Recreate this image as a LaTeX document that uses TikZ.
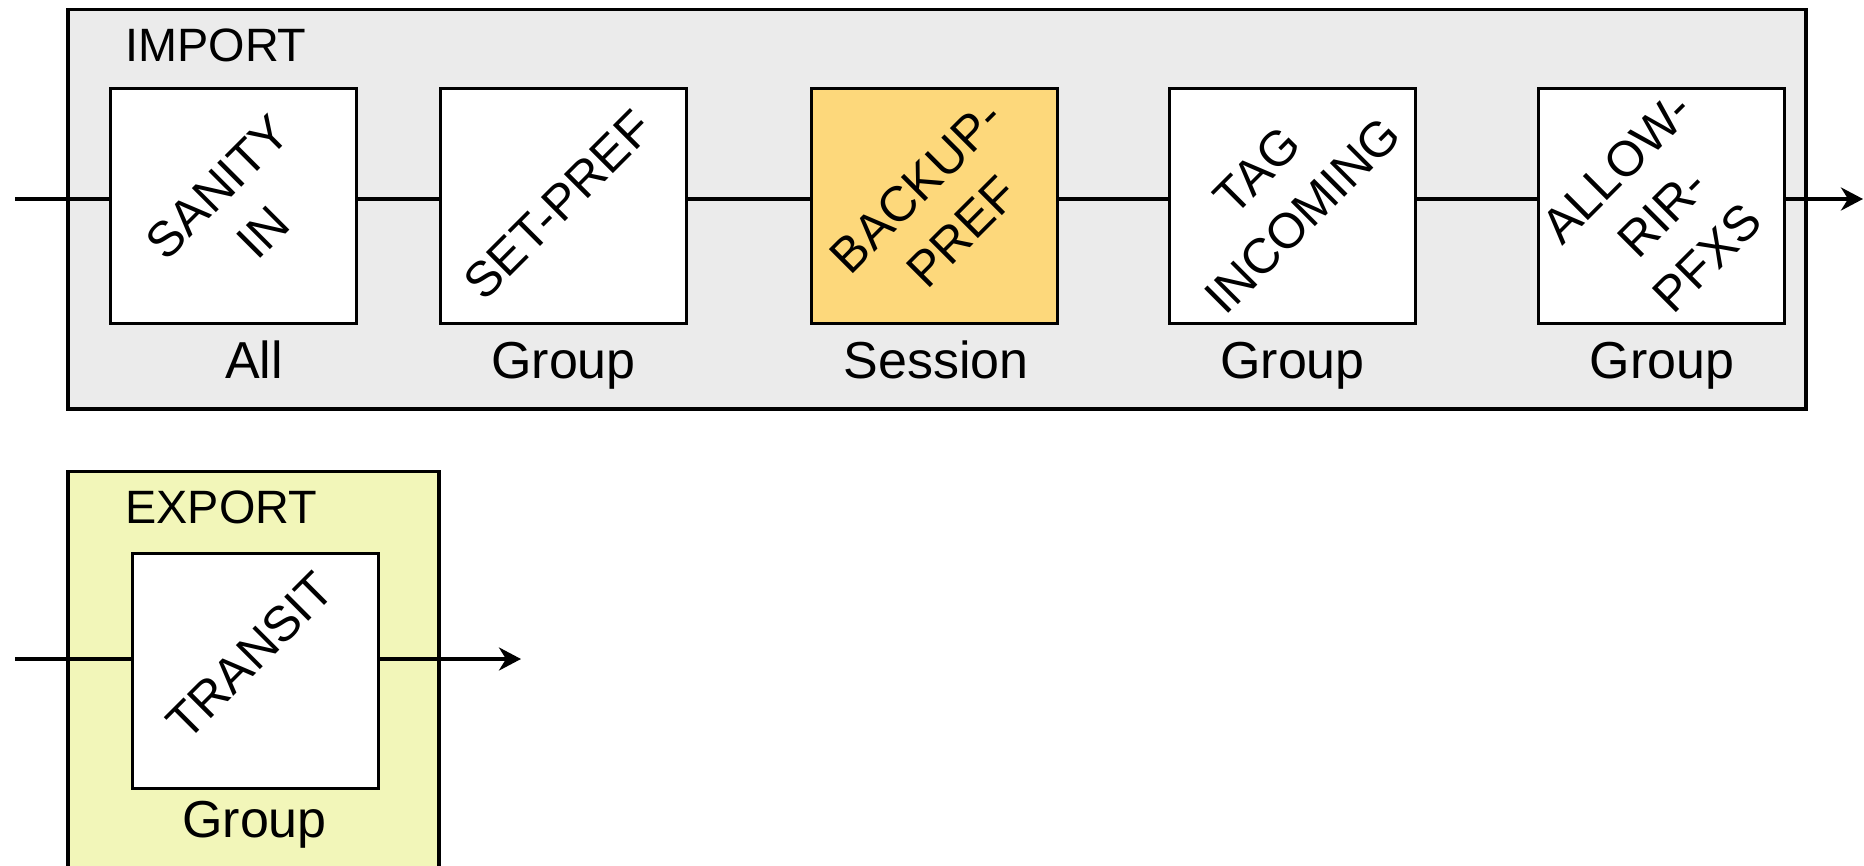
\documentclass[tikz,border=0pt]{standalone}
\usepackage{fontspec}
\setmainfont{Liberation Sans}
\usetikzlibrary{arrows.meta}
\definecolor{panelgray}{HTML}{EBEBEB}
\definecolor{panelyellow}{HTML}{F2F6B9}
\definecolor{highlight}{HTML}{FDD87B}
\begin{document}
\begin{tikzpicture}[x=0.5pt,y=-0.5pt,
  panel/.style={draw=black, line width=1.6pt},
  filterbox/.style={draw=black, line width=1.5pt, fill=white,
    minimum width=123pt, minimum height=117.5pt, inner sep=0pt},
  filtername/.style={rotate=45, align=center, inner sep=0pt,
    font=\fontsize{24.7}{32}\selectfont},
  scopelabel/.style={anchor=base, inner sep=0pt, font=\fontsize{26}{29}\selectfont},
  paneltitle/.style={anchor=base west, inner sep=0pt, font=\fontsize{23.4}{28}\selectfont},
  flow/.style={line width=2.2pt},
  flowout/.style={flow, -{Stealth[length=11pt,width=11.5pt,inset=3.5pt]}},
  ]
\useasboundingbox (0,0) rectangle (1864,866);
\clip (0,0) rectangle (1864,866);

% import chain
\draw[panel, fill=panelgray] (68,9.5) rectangle (1806,409);
\node[paneltitle] (importtitle) at (125,62) {IMPORT};

\node[filterbox] (b1) at (233,206.5) {};
\node[filterbox] (b2) at (563.5,206.5) {};
\node[filterbox, fill=highlight] (b3) at (934.5,206.5) {};
\node[filterbox] (b4) at (1292.5,206.5) {};
\node[filterbox] (b5) at (1661.5,206.5) {};

\node[filtername] (t1) at (240,209.5) {SANITY\\IN};
\node[filtername] (t2) at (558,205) {SET-PREF};
\node[filtername] (t3) at (939,209) {BACKUP-\\PREF};
\node[filtername] (t4) at (1280,193) {TAG\\INCOMING};
\node[filtername] (t5) at (1662,213) {ALLOW-\\RIR-\\PFXS};

\node[scopelabel] (l1) at (254,379) {All};
\node[scopelabel] (l2) at (563.5,379) {Group};
\node[scopelabel] (l3) at (936,379) {Session};
\node[scopelabel] (l4) at (1292.5,379) {Group};
\node[scopelabel] (l5) at (1662,379) {Group};

\coordinate (importin) at (15,199);
\coordinate (importout) at (1863,199);
\draw[flow] (importin) -- (b1.west |- importin);
\draw[flow] (b1.east |- importin) -- (b2.west |- importin);
\draw[flow] (b2.east |- importin) -- (b3.west |- importin);
\draw[flow] (b3.east |- importin) -- (b4.west |- importin);
\draw[flow] (b4.east |- importin) -- (b5.west |- importin);
\draw[flowout] (b5.east |- importin) -- (importout);

% export chain
\draw[panel, fill=panelyellow] (68,471.5) rectangle (439,900);
\node[paneltitle] (exporttitle) at (125,523) {EXPORT};

\node[filterbox] (e1) at (255,670.5) {};
\node[filtername] (te1) at (250,656) {TRANSIT};
\node[scopelabel] (le1) at (254.5,837) {Group};

\coordinate (exportin) at (15,659);
\coordinate (exportout) at (521,659);
\draw[flow] (exportin) -- (e1.west |- exportin);
\draw[flowout] (e1.east |- exportin) -- (exportout);
\end{tikzpicture}
\end{document}
